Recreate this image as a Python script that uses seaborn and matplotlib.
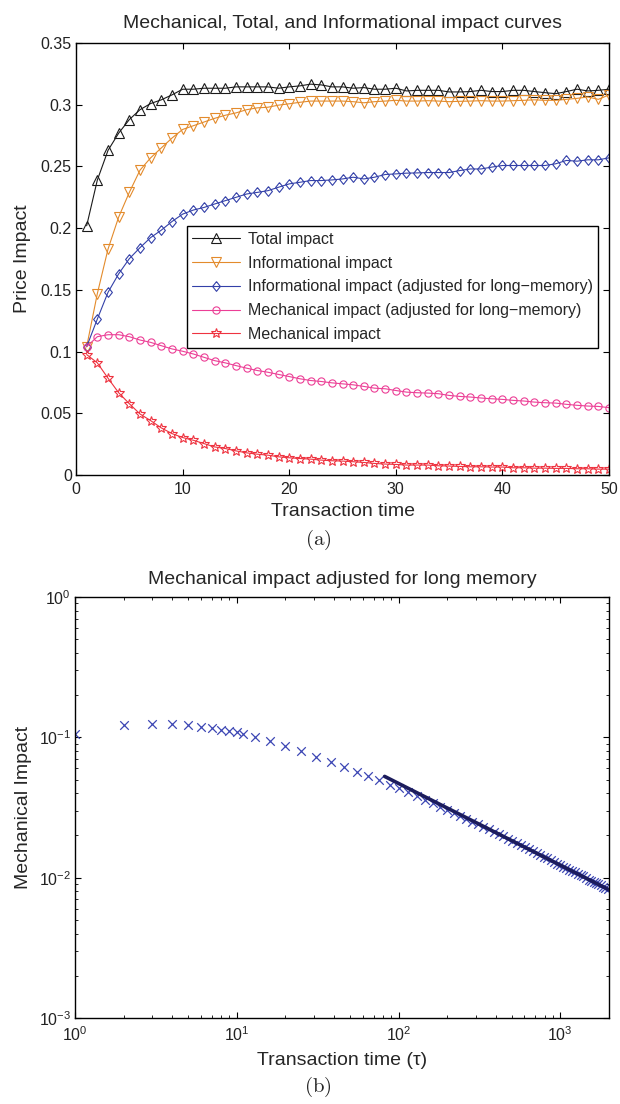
import matplotlib
matplotlib.use("Agg")
import matplotlib.pyplot as plt
import seaborn as sns

# ---------------- Panel (a) data ----------------
t = list(range(1, 51))
total_impact = [0.202, 0.239, 0.263, 0.277, 0.288, 0.296, 0.301, 0.304, 0.308, 0.3126,
                0.3126, 0.3134, 0.3134, 0.3134, 0.3145, 0.3145, 0.3145, 0.3145, 0.3134, 0.3145,
                0.3153, 0.3167, 0.3161, 0.3145, 0.3145, 0.3134, 0.3139, 0.3126, 0.3126, 0.3134,
                0.3112, 0.3117, 0.3117, 0.3117, 0.3104, 0.3104, 0.3107, 0.3117, 0.3107, 0.3107,
                0.3117, 0.3117, 0.3107, 0.3098, 0.3090, 0.3107, 0.3126, 0.3112, 0.3117, 0.3126]
informational_impact = [0.104, 0.147, 0.183, 0.209, 0.229, 0.247, 0.257, 0.265, 0.273, 0.280,
                        0.283, 0.286, 0.289, 0.2915, 0.2934, 0.296, 0.2975, 0.298, 0.2997, 0.3008,
                        0.302, 0.303, 0.303, 0.303, 0.303, 0.3025, 0.3016, 0.3025, 0.303, 0.3036,
                        0.303, 0.303, 0.3033, 0.303, 0.3025, 0.3028, 0.303, 0.3033, 0.303, 0.303,
                        0.3033, 0.3036, 0.304, 0.3036, 0.3036, 0.3044, 0.3052, 0.3063, 0.3044, 0.308]
informational_adjusted = [0.104, 0.1264, 0.148, 0.163, 0.1753, 0.1842, 0.1924, 0.1984, 0.2054, 0.2114,
                          0.2147, 0.2168, 0.2196, 0.2223, 0.225, 0.2277, 0.229, 0.2304, 0.2332, 0.2359,
                          0.2372, 0.2386, 0.2386, 0.2391, 0.2399, 0.2413, 0.2399, 0.2413, 0.2435, 0.244,
                          0.2446, 0.2448, 0.2451, 0.2451, 0.2451, 0.2467, 0.248, 0.248, 0.2495, 0.2508,
                          0.2508, 0.2508, 0.2508, 0.2508, 0.2522, 0.2549, 0.2543, 0.2554, 0.2554, 0.257]
mechanical_adjusted = [0.104, 0.1121, 0.1137, 0.1137, 0.1121, 0.1094, 0.1075, 0.1048, 0.1022, 0.1003,
                       0.0981, 0.0954, 0.0927, 0.0909, 0.0887, 0.0866, 0.0847, 0.0833, 0.0815, 0.0798,
                       0.0780, 0.0766, 0.0758, 0.0747, 0.0739, 0.0731, 0.0718, 0.0704, 0.0699, 0.0685,
                       0.0672, 0.0667, 0.0664, 0.0659, 0.0645, 0.0637, 0.0632, 0.0624, 0.0618, 0.0613,
                       0.0605, 0.0600, 0.0591, 0.0586, 0.0583, 0.0573, 0.0565, 0.0559, 0.0556, 0.0546]
mechanical_impact = [0.0976, 0.0909, 0.0785, 0.0667, 0.0578, 0.0495, 0.0441, 0.0382, 0.0336, 0.0304,
                     0.0282, 0.0255, 0.0228, 0.0215, 0.0196, 0.0180, 0.0169, 0.0161, 0.0148, 0.0140,
                     0.0134, 0.0129, 0.0121, 0.0116, 0.0113, 0.0108, 0.0102, 0.0094, 0.0089, 0.0086,
                     0.0081, 0.0081, 0.0081, 0.0075, 0.0073, 0.0070, 0.0067, 0.0067, 0.0065, 0.0065,
                     0.0059, 0.0059, 0.0056, 0.0056, 0.0054, 0.0054, 0.0051, 0.0051, 0.0048, 0.0048]
series_labels = ["Total impact",
                 "Informational impact",
                 "Informational impact (adjusted for long\u2212memory)",
                 "Mechanical impact (adjusted for long\u2212memory)",
                 "Mechanical impact"]
a_xticks = [0, 10, 20, 30, 40, 50]
a_yticks = [0, 0.05, 0.1, 0.15, 0.2, 0.25, 0.3, 0.35]
a_yticklabels = ["0", "0.05", "0.1", "0.15", "0.2", "0.25", "0.3", "0.35"]

# ---------------- Panel (b) data ----------------
tau = [1, 2, 3, 4, 5, 6, 7, 8, 9, 10, 11,
       13, 16, 20, 25, 31, 38, 46, 55, 65, 76, 88,
       101, 115, 130, 146, 163, 181, 200, 220, 241, 263,
       286, 310, 335, 361, 388, 416, 445, 475, 506, 538,
       571, 605, 640, 676, 713, 751, 790, 830, 871, 913,
       956, 1000, 1045, 1091, 1138, 1186, 1235, 1285, 1336, 1388,
       1441, 1495, 1550, 1606, 1663, 1721, 1780, 1840, 1901, 1963]
mech_long_memory = [0.1056, 0.1218, 0.125, 0.1237, 0.1225, 0.119, 0.1167, 0.1135, 0.1104, 0.1086, 0.1056,
                    0.100, 0.0936, 0.0862, 0.0802, 0.0727, 0.0672, 0.0618, 0.0570, 0.0533, 0.0495, 0.0461,
                    0.0436, 0.0406, 0.0384, 0.0360, 0.0339, 0.0320, 0.0303, 0.0288, 0.0274, 0.0262,
                    0.0251, 0.0241, 0.0231, 0.0222, 0.0213, 0.0205, 0.0197, 0.0190, 0.0183, 0.0176,
                    0.0170, 0.0165, 0.0159, 0.0154, 0.0150, 0.0145, 0.0141, 0.0137, 0.0133, 0.0130,
                    0.0126, 0.0123, 0.0120, 0.0117, 0.0114, 0.0111, 0.0109, 0.0106, 0.0104, 0.0102,
                    0.0099, 0.0097, 0.0095, 0.0093, 0.0091, 0.0090, 0.0088, 0.0086, 0.0085, 0.0083]
fit_tau = [82, 2000]
fit_values = [0.0527, 0.0082]

# ---------------- Style ----------------
sns.set_theme(style="ticks")
plt.rcParams["font.family"] = ["Liberation Sans", "DejaVu Sans"]
plt.rcParams["axes.edgecolor"] = "black"
plt.rcParams["axes.linewidth"] = 1.0

fig = plt.figure(figsize=(6.2, 11.04), dpi=100)
ax1 = fig.add_axes([0.1226, 0.5697, 0.8597, 0.3913])
ax2 = fig.add_axes([0.121, 0.0779, 0.8613, 0.3813])

diamond = [(0, 1), (0.8, 0), (0, -1), (-0.8, 0), (0, 1)]
styles = [
    (total_impact, "#1a1a1a", "^", 6.5),
    (informational_impact, "#E38B2C", "v", 6.5),
    (informational_adjusted, "#3340A8", diamond, 7.0),
    (mechanical_adjusted, "#EC3F96", "o", 5.2),
    (mechanical_impact, "#EE3340", "*", 7.5),
]
for (vals, col, mk, ms), lab in zip(styles, series_labels):
    sns.lineplot(x=t, y=vals, ax=ax1, color=col, linewidth=0.8, marker=mk,
                 markersize=ms, markerfacecolor="none", markeredgecolor=col,
                 markeredgewidth=0.8, label=lab)

ax1.set_xlim(0, 50)
ax1.set_ylim(0, 0.35)
ax1.set_xticks(a_xticks)
ax1.set_yticks(a_yticks)
ax1.set_yticklabels(a_yticklabels)
ax1.set_title("Mechanical, Total, and Informational impact curves", fontsize=14, pad=10.5)
ax1.set_xlabel("Transaction time", fontsize=14, labelpad=4)
ax1.set_ylabel("Price Impact", fontsize=14, labelpad=7)
leg = ax1.legend(loc="upper left", bbox_to_anchor=(0.208, 0.576), borderaxespad=0,
                 fontsize=11.5, frameon=True, fancybox=False, edgecolor="black",
                 framealpha=1, handlelength=3.0, handletextpad=0.45, labelspacing=0.55,
                 borderpad=0.35)
leg.get_frame().set_linewidth(1.0)

# Panel (b)
sns.scatterplot(x=tau, y=mech_long_memory, ax=ax2, marker="x", color="#3C46B4",
                s=38, linewidth=0.9, zorder=2)
sns.lineplot(x=fit_tau, y=fit_values, ax=ax2, color="#1C1C5C", linewidth=2.6, zorder=3)
ax2.set_xscale("log")
ax2.set_yscale("log")
ax2.set_xlim(1, 2000)
ax2.set_ylim(1e-3, 1)
ax2.set_title("Mechanical impact adjusted for long memory", fontsize=14, pad=9.5)
ax2.set_xlabel("Transaction time (\u03c4)", fontsize=14, labelpad=6)
ax2.set_ylabel("Mechanical Impact", fontsize=14, labelpad=5)

for ax in (ax1, ax2):
    ax.tick_params(which="both", direction="in", top=True, right=True, colors="black",
                   labelcolor="#222222", labelsize=11.5)
    ax.tick_params(which="major", length=4, width=0.8)
    ax.tick_params(which="minor", length=2.2, width=0.6)
    ax.tick_params(axis="x", pad=5)
    ax.tick_params(axis="y", pad=3)
    for sp in ax.spines.values():
        sp.set_visible(True)
        sp.set_color("black")
        sp.set_linewidth(1.0)

fig.text(318 / 620, 1 - 540 / 1104, r"$\mathrm{(a)}$", math_fontfamily="cm",
         ha="center", va="center", fontsize=15)
fig.text(318 / 620, 1 - 1087 / 1104, r"$\mathrm{(b)}$", math_fontfamily="cm",
         ha="center", va="center", fontsize=15)

fig.savefig("out.png", dpi=100)
